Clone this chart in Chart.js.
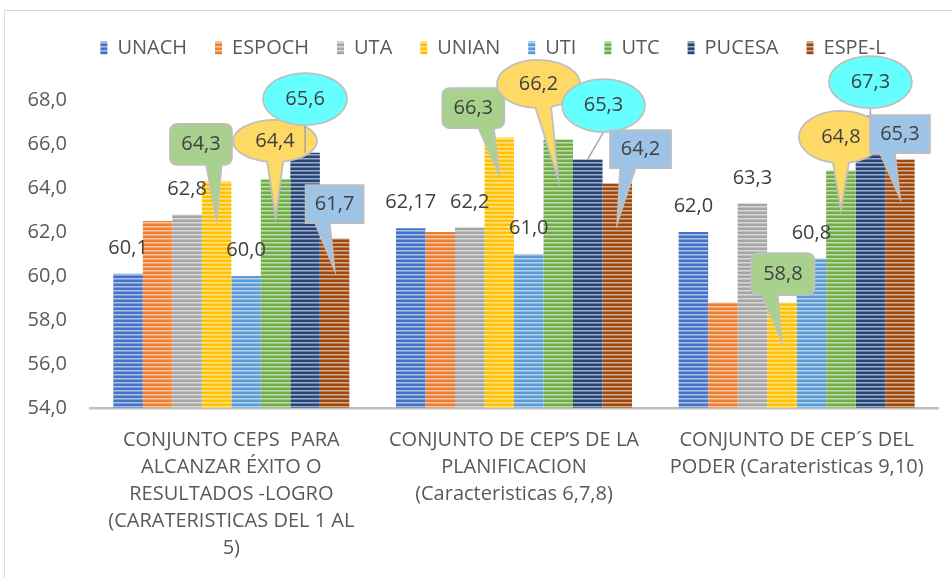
<!DOCTYPE html>
<html>
<head>
<meta charset="utf-8">
<script src="https://cdn.jsdelivr.net/npm/chart.js@4.4.0/dist/chart.umd.min.js"></script>
<style>
  html, body { margin: 0; padding: 0; background: #fff; }
  #wrap { position: relative; width: 952px; height: 578px; overflow: hidden; }
  #frame { position: absolute; left: 4px; top: 10px; width: 1000px; height: 1000px; border: 1px solid #d9d9d9; }
  canvas { position: absolute; left: 0; top: 0; }
</style>
</head>
<body>
<div id="wrap">
  <div id="frame"></div>
  <canvas id="chart" width="952" height="578"></canvas>
</div>
<script>
// ===== DATOS =====
const categorias = [
  ['CONJUNTO CEPS  PARA', 'ALCANZAR ÉXITO O', 'RESULTADOS -LOGRO', '(CARATERISTICAS DEL 1 AL', '5)'],
  ['CONJUNTO DE CEP’S DE LA', 'PLANIFICACION', '(Caracteristicas 6,7,8)'],
  ['CONJUNTO DE CEP´S DEL', 'PODER (Carateristicas 9,10)']
];

const universidades = ['UNACH', 'ESPOCH', 'UTA', 'UNIAN', 'UTI', 'UTC', 'PUCESA', 'ESPE-L'];

const unach  = [60.1, 62.17, 62.0];
const espoch = [62.5, 62.0, 58.8];
const uta    = [62.8, 62.2, 63.3];
const unian  = [64.3, 66.3, 58.8];
const uti    = [60.0, 61.0, 60.8];
const utc    = [64.4, 66.2, 64.8];
const pucesa = [65.6, 65.3, 67.3];
const espeL  = [61.7, 64.2, 65.3];

const yMin = 54, yMax = 68, yPaso = 2;

// ===== ESTILOS =====
const FUENTE = "'Open Sans', sans-serif";
const colores = ['#4472C4', '#ED7D31', '#A5A5A5', '#FFC000', '#5B9BD5', '#70AD47', '#264478', '#9E480E'];

// tipo de etiqueta por serie
const estiloEtiqueta = {
  'UNACH': { tipo: 'texto' },
  'UTA': { tipo: 'texto' },
  'UNIAN': { tipo: 'rectRedondo', fondo: '#A9D18E' },
  'UTI': { tipo: 'texto' },
  'UTC': { tipo: 'elipse', fondo: '#FFD966' },
  'PUCESA': { tipo: 'guia', fondo: '#66FFFF' },
  'ESPE-L': { tipo: 'rect', fondo: '#9DC3E6' }
};

// globo respecto a la barra: [dx, dy, ancho, alto, puntaDy]
const posGlobos = {
  'UNIAN':  [[-15.6, -37, 62, 41, 38.6], [-26, -29.4, 62, 40, 37.6], [1, -28.4, 63, 42, 39.6]],
  'UTC':    [[-0.6, -38.2, 84, 42, 38.8], [-19.8, -55.6, 83, 48, 39.4], [0, -33.4, 84, 52, 39.6]],
  'PUCESA': [[0, -53.8, 84, 52, 0], [15.7, -53.9, 83, 53, 0], [0, -33.4, 83, 52, 0]],
  'ESPE-L': [[0, -34.4, 58, 38, 31.6], [23.3, -34.6, 61, 38, 39.4], [0, -25.4, 60, 38, 38.6]]
};

function formato(v) {
  const t = Number.isInteger(Math.round(v * 100) / 10) ? v.toFixed(1) : v.toFixed(2);
  return t.replace('.', ',');
}

function mezcla(hex, m) {
  const n = parseInt(hex.slice(1), 16);
  const r = (n >> 16) & 255, g = (n >> 8) & 255, b = n & 255;
  const f = c => Math.round(c + (255 - c) * m);
  return `rgb(${f(r)},${f(g)},${f(b)})`;
}

// relleno rayado horizontal como en el original
function rayado(color) {
  const c = document.createElement('canvas');
  c.width = 4; c.height = 4;
  const g = c.getContext('2d');
  [0, 0, 0.55, 0.3].forEach((m, k) => {
    g.fillStyle = mezcla(color, m);
    g.fillRect(0, k, 4, 1);
  });
  return g.createPattern(c, 'repeat');
}

const series = [unach, espoch, uta, unian, uti, utc, pucesa, espeL];
const datasets = series.map((d, i) => ({
  label: universidades[i],
  data: d,
  backgroundColor: rayado(colores[i]),
  borderWidth: 0
}));

// ===== PLUGINS =====
// deja espacio bajo la leyenda y la centra como en el original
const ajusteLeyenda = {
  id: 'ajusteLeyenda',
  beforeLayout(chart) {
    const lg = chart.legend;
    if (!lg || lg._conEspacio) return;
    const fit = lg.fit;
    lg.fit = function () { fit.call(this); this.height += 32; };
    lg._conEspacio = true;
  },
  afterLayout(chart) {
    if (chart.legend) chart.legend.left += 28;
  }
};

function caminoRect(ctx, bx, by, w, h, r, punta) {
  const l = bx - w / 2, t = by - h / 2, der = bx + w / 2, b = by + h / 2;
  const derecha = punta.x > bx;
  const x1 = l + w * (derecha ? 7 : 2) / 12;
  const x2 = l + w * (derecha ? 10 : 5) / 12;
  ctx.beginPath();
  ctx.moveTo(l + r, t);
  ctx.arcTo(der, t, der, b, r);
  ctx.arcTo(der, b, x2, b, r);
  ctx.lineTo(x2, b);
  ctx.lineTo(punta.x, punta.y);
  ctx.lineTo(x1, b);
  ctx.arcTo(l, b, l, t, r);
  ctx.arcTo(l, t, der, t, r);
  ctx.closePath();
}

function caminoElipse(ctx, bx, by, w, h, punta) {
  const rx = w / 2, ry = h / 2;
  ctx.beginPath();
  if (punta) {
    const ang = Math.atan2((punta.y - by) / ry, (punta.x - bx) / rx);
    const d = 11 * Math.PI / 180;
    ctx.ellipse(bx, by, rx, ry, 0, ang + d, ang - d + 2 * Math.PI);
    ctx.lineTo(punta.x, punta.y);
  } else {
    ctx.ellipse(bx, by, rx, ry, 0, 0, 2 * Math.PI);
  }
  ctx.closePath();
}

const globos = {
  id: 'globos',
  afterDatasetsDraw(chart) {
    const ctx = chart.ctx;
    chart.data.datasets.forEach((ds, i) => {
      const estilo = estiloEtiqueta[ds.label];
      if (!estilo) return;
      chart.getDatasetMeta(i).data.forEach((bar, j) => {
        const texto = formato(ds.data[j]);
        const cx = bar.x, ty = bar.y;
        ctx.save();
        ctx.font = `20px ${FUENTE}`;
        ctx.textAlign = 'center';
        ctx.textBaseline = 'middle';
        if (estilo.tipo === 'texto') {
          ctx.fillStyle = '#404040';
          ctx.fillText(texto, cx, ty - 25.5);
          ctx.restore();
          return;
        }
        const [dx, dy, w, h, puntaDy] = posGlobos[ds.label][j];
        const bx = cx + dx, by = ty + dy;
        const punta = { x: cx, y: ty + puntaDy };
        ctx.lineWidth = 1.75;
        ctx.strokeStyle = '#BFBFBF';
        ctx.fillStyle = estilo.fondo;
        if (estilo.tipo === 'guia') {
          ctx.beginPath();
          ctx.moveTo(bx, by + h / 2);
          ctx.lineTo(cx, ty);
          ctx.strokeStyle = '#A6A6A6';
          ctx.lineWidth = 1.5;
          ctx.stroke();
          ctx.strokeStyle = '#BFBFBF';
          ctx.lineWidth = 1.75;
          caminoElipse(ctx, bx, by, w, h, null);
        } else if (estilo.tipo === 'elipse') {
          caminoElipse(ctx, bx, by, w, h, punta);
        } else {
          caminoRect(ctx, bx, by, w, h, estilo.tipo === 'rectRedondo' ? 7 : 0, punta);
        }
        ctx.fill();
        ctx.stroke();
        ctx.fillStyle = '#404040';
        ctx.fillText(texto, bx, by);
        ctx.restore();
      });
    });
  }
};

// ===== GRAFICO =====
new Chart(document.getElementById('chart'), {
  type: 'bar',
  data: { labels: categorias, datasets: datasets },
  options: {
    responsive: false,
    animation: false,
    devicePixelRatio: 1,
    layout: { padding: { left: 20, right: 14, top: 10, bottom: 0 } },
    datasets: { bar: { categoryPercentage: 0.835, barPercentage: 1 } },
    plugins: {
      legend: {
        position: 'top',
        labels: {
          boxWidth: 7,
          boxHeight: 13,
          padding: 28,
          color: '#595959',
          font: { family: FUENTE, size: 20 }
        }
      },
      tooltip: { enabled: false }
    },
    scales: {
      x: {
        grid: { display: false, drawTicks: false },
        border: { display: true, color: '#BFBFBF', width: 2.5 },
        ticks: {
          color: '#595959',
          font: { family: FUENTE, size: 20, lineHeight: 1.35 },
          padding: 19,
          maxRotation: 0,
          autoSkip: false
        },
        afterFit(s) { s.height = 170; }
      },
      y: {
        min: yMin,
        max: yMax,
        grid: { display: false, drawTicks: false },
        border: { display: false },
        ticks: {
          stepSize: yPaso,
          padding: 23,
          color: '#595959',
          font: { family: FUENTE, size: 20 },
          callback: v => v.toFixed(1).replace('.', ',')
        },
        afterFit(s) { s.width = 70; }
      }
    }
  },
  plugins: [ajusteLeyenda, globos]
});
</script>
</body>
</html>
